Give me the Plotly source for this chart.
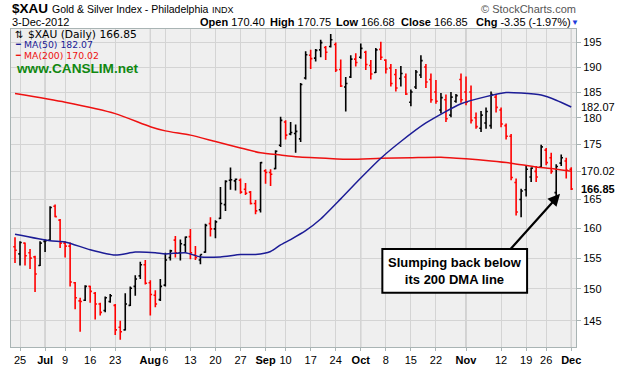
import math
import pandas as pd
import plotly.graph_objects as go

# ---------------- data ----------------
holidays = ["2012-07-04", "2012-09-03", "2012-10-29", "2012-10-30", "2012-11-22"]
trade_dates = [d.strftime("%Y-%m-%d") for d in
               pd.bdate_range("2012-06-22", "2012-12-03", freq="C", holidays=holidays)]

prior_close = 157.5
opens = [156.9, 155.7, 157.5, 155.9, 155.2, 153.8, 157.8, 158.0, 163.8, 161.4,
         157.5, 157.0, 151.0, 148.1, 148.2, 150.4, 149.3, 147.6, 146.6, 148.0,
         147.4, 144.0, 143.6, 147.4, 150.4, 152.1, 153.9, 151.0, 149.0, 148.3,
         150.6, 155.1, 158.0, 155.9, 157.2, 158.6, 155.5, 154.7, 156.0, 160.8,
         159.9, 161.7, 164.1, 168.4, 168.3, 168.4, 166.8, 166.3, 164.3, 163.2,
         170.1, 169.8, 170.5, 174.8, 179.2, 176.9, 177.0, 176.0, 187.8, 192.4,
         191.8, 193.5, 194.0, 194.2, 194.6, 189.5, 186.0, 188.0, 191.6, 192.0,
         193.0, 190.3, 188.9, 193.6, 191.4, 189.8, 188.5, 187.7, 188.0, 183.0,
         186.0, 188.4, 190.0, 187.5, 185.0, 181.5, 183.5, 180.5, 183.2, 187.5,
         185.0, 185.0, 180.0, 178.0, 179.0, 178.5, 184.0, 181.5, 178.5, 176.5,
         168.0, 165.0, 166.7, 169.0, 170.0, 170.8, 173.9, 172.5, 166.2, 171.5,
         171.9, 170.40]
highs = [158.5, 157.8, 157.6, 156.5, 155.4, 157.8, 158.1, 163.8, 164.1, 161.6,
         157.8, 157.6, 151.1, 148.6, 150.6, 150.5, 149.5, 147.8, 148.8, 149.2,
         147.6, 145.0, 149.3, 150.4, 152.2, 154.4, 154.7, 151.4, 149.8, 151.6,
         155.9, 156.4, 158.7, 158.1, 158.6, 159.9, 157.0, 155.6, 160.8, 161.9,
         161.4, 167.2, 168.4, 170.7, 168.7, 168.7, 167.9, 166.5, 164.9, 171.7,
         170.4, 170.4, 173.9, 180.2, 179.5, 179.2, 178.7, 186.8, 193.2, 193.5,
         193.7, 195.6, 194.3, 196.8, 195.0, 191.5, 188.0, 192.4, 192.8, 194.8,
         193.3, 191.4, 193.9, 195.2, 191.6, 190.6, 189.6, 190.2, 188.7, 185.5,
         189.4, 192.4, 190.6, 188.7, 187.4, 184.8, 184.5, 185.0, 184.6, 188.7,
         188.1, 186.3, 181.0, 181.3, 182.0, 185.1, 184.5, 182.0, 178.9, 176.9,
         168.7, 166.9, 171.0, 170.7, 171.0, 174.9, 174.3, 173.4, 171.3, 173.1,
         172.5, 170.75]
lows = [154.2, 153.8, 153.8, 153.2, 149.5, 153.7, 156.0, 157.9, 161.9, 156.7,
        155.1, 150.4, 146.8, 143.3, 148.1, 147.8, 145.2, 145.8, 146.3, 147.8,
        142.8, 142.1, 143.5, 147.3, 148.9, 151.6, 150.7, 145.8, 147.1, 148.1,
        150.4, 154.6, 155.1, 154.6, 155.9, 154.8, 154.7, 154.0, 155.9, 158.6,
        158.3, 161.6, 163.0, 166.7, 166.6, 166.0, 165.8, 164.1, 162.4, 162.7,
        167.8, 167.4, 170.4, 174.5, 175.9, 176.7, 173.4, 175.4, 187.5, 189.6,
        191.1, 192.0, 191.4, 194.0, 189.0, 186.0, 181.2, 187.8, 190.1, 191.7,
        189.4, 187.5, 188.8, 191.4, 188.7, 186.1, 185.1, 186.1, 184.4, 182.2,
        185.6, 187.8, 185.8, 182.9, 182.7, 180.8, 179.2, 180.1, 182.9, 182.9,
        182.4, 178.9, 177.9, 177.3, 177.9, 177.9, 181.0, 178.2, 175.9, 168.4,
        162.2, 161.9, 165.5, 168.1, 168.1, 170.7, 171.1, 169.6, 165.6, 171.0,
        168.7, 166.68]
closes = [156.3, 157.6, 155.4, 155.0, 152.4, 157.5, 157.9, 163.6, 162.0, 157.5,
          157.0, 151.1, 148.6, 148.0, 150.4, 149.6, 147.6, 146.3, 148.6, 148.9,
          143.6, 143.3, 147.6, 150.1, 151.6, 153.9, 150.9, 149.1, 147.6, 150.4,
          154.7, 156.2, 155.9, 157.4, 158.5, 155.9, 155.1, 155.6, 160.5, 159.9,
          161.1, 164.3, 168.2, 168.5, 168.6, 166.3, 166.1, 164.3, 163.0, 171.6,
          169.8, 169.5, 173.7, 179.5, 176.7, 177.2, 177.4, 186.5, 192.5, 191.7,
          193.4, 195.0, 193.0, 195.6, 189.4, 186.2, 186.7, 191.6, 190.9, 193.8,
          190.5, 188.6, 193.5, 192.0, 189.6, 186.7, 185.8, 188.7, 184.6, 185.0,
          189.0, 191.3, 187.0, 183.5, 183.2, 183.9, 179.8, 184.0, 184.3, 183.5,
          183.0, 179.5, 178.3, 180.5, 181.2, 184.5, 182.0, 178.8, 176.5, 168.9,
          162.8, 166.5, 170.4, 170.6, 169.0, 174.5, 171.6, 170.0, 170.9, 172.5,
          170.2, 166.85]

ma50_dates = ["2012-06-22", "2012-07-03", "2012-07-09", "2012-07-16", "2012-07-23",
              "2012-07-27", "2012-08-02", "2012-08-06", "2012-08-10", "2012-08-15",
              "2012-08-21", "2012-08-27", "2012-08-30", "2012-09-05", "2012-09-07",
              "2012-09-11", "2012-09-14", "2012-09-19", "2012-09-25", "2012-10-01",
              "2012-10-05", "2012-10-11", "2012-10-18", "2012-10-31", "2012-11-07",
              "2012-11-13", "2012-11-16", "2012-11-23", "2012-11-28", "2012-12-03"]
ma50_values = [159.0, 157.9, 157.7, 156.4, 155.5, 156.0, 155.9, 155.7, 155.9, 155.2,
               155.2, 155.6, 155.6, 156.1, 157.2, 158.1, 159.6, 161.6, 165.1, 168.8,
               172.4, 175.5, 179.0, 182.7, 184.1, 184.9, 184.8, 184.4, 183.4, 182.07]

ma200_dates = ["2012-06-22", "2012-07-09", "2012-07-23", "2012-08-01", "2012-08-06",
               "2012-08-13", "2012-08-20", "2012-08-27", "2012-08-31", "2012-09-07",
               "2012-09-12", "2012-09-20", "2012-09-27", "2012-10-05", "2012-10-15",
               "2012-10-23", "2012-11-01", "2012-11-08", "2012-11-14", "2012-11-21",
               "2012-11-28", "2012-12-03"]
ma200_values = [184.7, 183.0, 180.8, 178.3, 177.5, 176.7, 175.5, 174.3, 173.4, 173.0,
                172.7, 172.4, 172.2, 172.4, 172.5, 172.6, 172.3, 171.9, 171.5, 170.8,
                170.4, 170.02]

tick_dates = ["2012-06-25", "2012-07-02", "2012-07-09", "2012-07-16", "2012-07-23",
              "2012-08-01", "2012-08-06", "2012-08-13", "2012-08-20", "2012-08-27",
              "2012-09-04", "2012-09-10", "2012-09-17", "2012-09-24", "2012-10-01",
              "2012-10-08", "2012-10-15", "2012-10-22", "2012-11-01", "2012-11-12",
              "2012-11-19", "2012-11-26", "2012-12-03"]
tick_labels = ["25", "Jul", "9", "16", "23", "Aug", "6", "13", "20", "27", "Sep", "10",
               "17", "24", "Oct", "8", "15", "22", "Nov", "12", "19", "26", "Dec"]
month_labels = ["Jul", "Aug", "Sep", "Oct", "Nov", "Dec"]
price_ticks = [145, 150, 155, 160, 165, 170, 175, 180, 185, 190, 195]
hidden_price_labels = [170]   # covered by the MA(200) value box in the reference

header_items = [("Open", "170.40"), ("High", "170.75"), ("Low", "166.68"),
                ("Close", "166.85"), ("Chg", "-3.35 (-1.97%)")]

# ---------------- build ----------------
idx = {d: i for i, d in enumerate(trade_dates)}
n = len(trade_dates)
xs = list(range(n))

up_i, dn_i = [], []
prev = prior_close
for i in range(n):
    (up_i if closes[i] > prev else dn_i).append(i)
    prev = closes[i]

fig = go.Figure()
for sel, col in ((up_i, "#000000"), (dn_i, "#FF0000")):
    fig.add_trace(go.Ohlc(
        x=[xs[i] for i in sel], open=[opens[i] for i in sel], high=[highs[i] for i in sel],
        low=[lows[i] for i in sel], close=[closes[i] for i in sel],
        increasing=dict(line=dict(color=col, width=1.6)),
        decreasing=dict(line=dict(color=col, width=1.6)),
        tickwidth=0.35, hoverinfo="skip", showlegend=False))

MA50_COL, MA200_COL = "#1C1C96", "#EE1111"
fig.add_trace(go.Scatter(x=[idx[d] for d in ma200_dates], y=ma200_values, mode="lines",
                         line=dict(color=MA200_COL, width=1.5, shape="spline", smoothing=0.6),
                         hoverinfo="skip", showlegend=False))
fig.add_trace(go.Scatter(x=[idx[d] for d in ma50_dates], y=ma50_values, mode="lines",
                         line=dict(color=MA50_COL, width=1.5, shape="spline", smoothing=0.6),
                         hoverinfo="skip", showlegend=False))

L, R, T, B = 10, 576, 29, 357
W, H = 626, 376


def px(x):
    return (x - L) / (R - L)


def py(y):
    return (B - y) / (B - T)


lo, hi = math.log10(141.0), math.log10(197.85)
FONT = "Liberation Sans, Arial, sans-serif"
LF = "DejaVu Sans, Verdana, sans-serif"

ticktext = [f"<b>{t}</b>" if t in month_labels else t for t in tick_labels]
fig.update_layout(
    width=W, height=H, margin=dict(l=L, r=W - R, t=T, b=H - B),
    paper_bgcolor="white", plot_bgcolor="#EFEFEF",
    font=dict(family=FONT, size=11, color="black"),
    xaxis=dict(range=[-0.8, 111.95], tickvals=[idx[d] for d in tick_dates], ticktext=ticktext,
               tickangle=0, showgrid=True, gridcolor="#D4D4D4", gridwidth=1,
               showline=True, linecolor="#A9B4B4", mirror=True, ticks="outside", ticklen=3,
               tickcolor="#A9B4B4", zeroline=False, rangeslider=dict(visible=False),
               tickfont=dict(size=11, family=FONT)),
    yaxis=dict(type="log", side="right", range=[lo, hi], tickvals=price_ticks,
               ticktext=["" if v in hidden_price_labels else str(v) for v in price_ticks],
               showgrid=True, gridcolor="#D4D4D4",
               showline=True, linecolor="#A9B4B4", mirror=True, ticks="outside", ticklen=4,
               tickcolor="#A9B4B4", zeroline=False, tickfont=dict(size=11, family=FONT)),
)

# darker month separators
for m in month_labels:
    d = tick_dates[tick_labels.index(m)]
    fig.add_shape(type="line", xref="x", yref="paper", x0=idx[d], x1=idx[d], y0=0, y1=1,
                  line=dict(color="#B4B4B4", width=1), layer="below")

ann = []


def text(x, y, s, size=11, color="black", anchor="left", family=FONT, yanchor="middle"):
    ann.append(dict(xref="paper", yref="paper", x=px(x), y=py(y), text=s, showarrow=False,
                    xanchor=anchor, yanchor=yanchor, font=dict(size=size, color=color, family=family)))


# header
text(9, 8, "<b>$XAU</b>", size=13.5)
text(49, 8.5, "Gold &amp; Silver Index - Philadelphia", size=10.5)
text(209, 9, "INDX", size=9)
text(578, 8.5, "© StockCharts.com", size=11, color="#555555", anchor="right")
text(9, 22, "3-Dec-2012", size=11)
hx = [197, 267, 334, 399, 474]
for (lab, val), x1 in zip(header_items, hx):
    text(x1, 22, f"<b>{lab}</b> {val}", size=11)
text(569, 22, "▼", size=8, color="#1E3CDC")

# legend inside
text(12, 34.5, "⇅", size=10, family=LF)
text(25, 34.5, "$XAU (Daily) 166.85", size=10.7, family=LF)
text(12, 45, "<b>━</b>", size=8, color=MA50_COL, family=LF)
text(21, 45, "MA(50) 182.07", size=9.3, color=MA50_COL, family=LF)
text(12, 56, "<b>━</b>", size=8, color=MA200_COL, family=LF)
text(21, 56, "MA(200) 170.02", size=9.3, color=MA200_COL, family=LF)
text(13, 70, "<b>www.CANSLIM.net</b>", size=13.6, color="#118811", family=FONT)

# right-side value boxes
for val, col, bold, bw in ((ma50_values[-1], MA50_COL, False, 1),
                           (ma200_values[-1], MA200_COL, False, 1),
                           (closes[-1], "#000000", True, 2)):
    yl = math.log10(val)
    fig.add_shape(type="path", xref="paper", yref="y", xsizemode="pixel", ysizemode="pixel",
                  xanchor=1, yanchor=yl, path="M 0 0 L 6 -6 L 37 -6 L 37 6 L 6 6 Z",
                  line=dict(color=col, width=bw), fillcolor="white", layer="above")
    s = f"{val:.2f}"
    ann.append(dict(xref="paper", yref="y", x=1, y=yl, xshift=22, text=f"<b>{s}</b>" if bold else s,
                    showarrow=False, xanchor="center", yanchor="middle",
                    font=dict(size=11, color="black", family=FONT)))

# callout box
fig.add_shape(type="rect", xref="paper", yref="paper", x0=px(382), x1=px(527), y0=py(301), y1=py(256),
              line=dict(color="black", width=2), fillcolor="white", layer="above")
text(454.5, 278.5, "<b>Slumping back below<br>its 200 DMA line</b>", size=13, anchor="center")
ann.append(dict(xref="paper", yref="paper", x=px(560), y=py(199), ax=509 - 560, ay=256 - 199,
                axref="pixel", ayref="pixel", text="", showarrow=True, arrowhead=2,
                arrowsize=1.1, arrowwidth=2.2, arrowcolor="black"))

fig.update_layout(annotations=ann)
fig.write_html("out.html", config={"displayModeBar": False},
               post_script="document.body.style.margin='0px';")
